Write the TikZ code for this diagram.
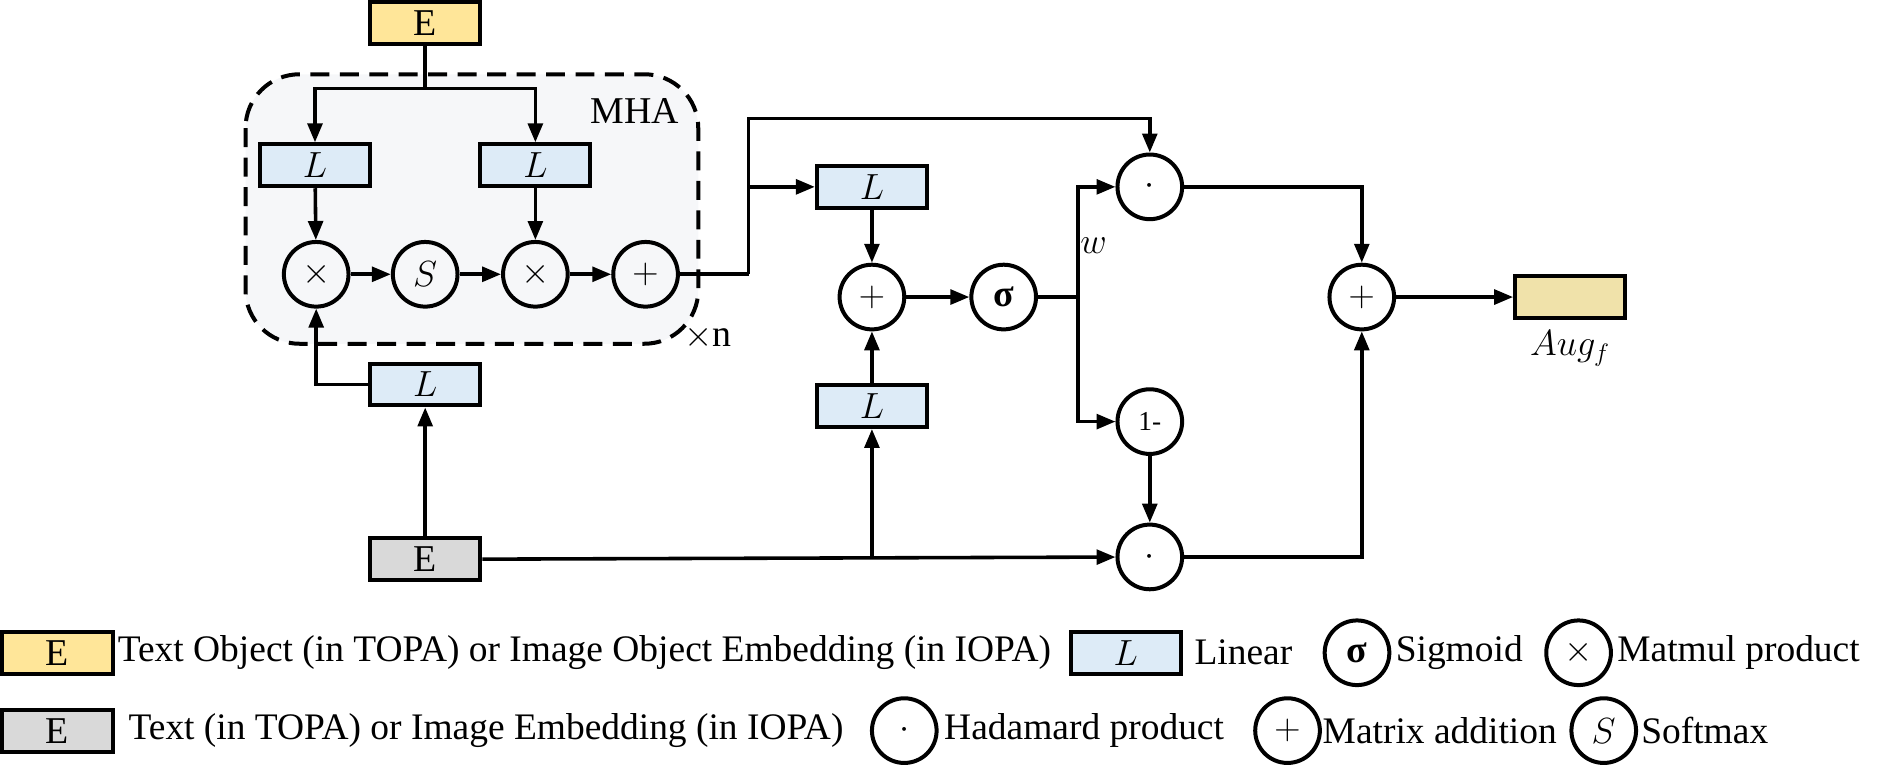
\documentclass[tikz,border=0pt]{standalone}
\usepackage{amsmath}
\usepackage{fontspec}
\setmainfont{Liberation Serif}
\usetikzlibrary{arrows.meta}
\definecolor{embyellow}{RGB}{255,230,153}
\definecolor{embgray}{RGB}{217,217,217}
\definecolor{linblue}{RGB}{221,235,247}
\definecolor{mhabg}{RGB}{246,247,249}
\definecolor{augfill}{RGB}{240,226,170}
\tikzset{
  box/.style={draw, line width=1.9pt, minimum width=1.84cm, minimum height=0.7cm, inner sep=0pt, font=\fontsize{18}{21}\selectfont},
  opnode/.style={draw, circle, line width=1.9pt, minimum size=1.08cm, inner sep=0pt, font=\fontsize{18}{21}\selectfont},
  conn/.style={line width=1.7pt},
  arr/.style={conn, -{Triangle[length=9pt,width=7pt]}},
  legtext/.style={anchor=west, font=\fontsize{17.8}{21}\selectfont, inner sep=0pt}
}
\begin{document}
\begin{tikzpicture}[x=0.02cm, y=-0.02cm]
    \useasboundingbox (0,0) rectangle (1568,640);
    % MHA block
    \draw [dashed, line width=1.9pt, dash pattern=on 9pt off 5pt, fill=mhabg, rounded corners=0.9cm] (205,62) rectangle (583,287);
    \node (mha) at (530,93) {\fontsize{18}{21}\selectfont MHA};
    \node (rep) at (591,282) {\fontsize{18}{21}\selectfont $\times$n};
    % nodes
    \node [box, fill=embyellow] (etop) at (355,19) {E};
    \node [box, fill=linblue] (lq) at (263,138) {$L$};
    \node [box, fill=linblue] (lk) at (447,138) {$L$};
    \node [opnode] (mul1) at (264,229) {$\times$};
    \node [opnode] (soft) at (355,229) {$S$};
    \node [opnode] (mul2) at (447,229) {$\times$};
    \node [opnode] (add1) at (539,229) {$+$};
    \node [box, fill=linblue] (lv) at (355,321) {$L$};
    \node [box, fill=embgray] (ebot) at (355,467) {E};
    \node [box, fill=linblue] (lg1) at (728,156) {$L$};
    \node [opnode] (add2) at (728,248) {$+$};
    \node [box, fill=linblue] (lg2) at (728,339) {$L$};
    \node [opnode] (sig) at (838,248) {\textbf{σ}};
    \node [opnode] (had1) at (960,156) {$\cdot$};
    \node [opnode] (inv) at (960,352) {\fontsize{13}{15}\selectfont 1-};
    \node [opnode] (had2) at (960,465) {$\cdot$};
    \node [opnode] (add3) at (1137,248) {$+$};
    \node [box, fill=augfill] (aug) at (1311,248) {};
    \node (augl) at (1311,291) {\fontsize{18}{21}\selectfont $Aug_f$};
    \node (wl) at (913,205) {\fontsize{18}{21}\selectfont $w$};
    % coordinates
    \coordinate (split) at (355,74);
    \coordinate (gate) at (900,248);
    \coordinate (res) at (625,229);
    \coordinate (tap) at (728,465);
    % connectors
    \draw [conn] (etop) -- (split);
    \draw [arr] (split) -| (lq);
    \draw [arr] (split) -| (lk);
    \draw [arr] (lq) -- (mul1);
    \draw [arr] (lk) -- (mul2);
    \draw [arr] (mul1) -- (soft);
    \draw [arr] (soft) -- (mul2);
    \draw [arr] (mul2) -- (add1);
    \draw [arr] (lv.west) -| (mul1.south);
    \draw [arr] (ebot) -- (lv);
    \draw [conn] (add1) -- (res);
    \draw [arr] (res) |- (lg1);
    \draw [arr] (res) |- (960,99) -- (had1);
    \draw [arr] (lg1) -- (add2);
    \draw [arr] (lg2) -- (add2);
    \draw [arr] (add2) -- (sig);
    \draw [conn] (sig) -- (gate);
    \draw [arr] (gate) |- (had1);
    \draw [arr] (gate) |- (inv);
    \draw [arr] (inv) -- (had2);
    \draw [arr] (ebot) -- (had2);
    \draw [arr] (tap) -- (lg2);
    \draw [arr] (had1) -| (add3);
    \draw [arr] (had2) -| (add3);
    \draw [arr] (add3) -- (aug);
    % legend
    \node [box, fill=embyellow] (k1) at (48,545) {E};
    \node [legtext] (t1) at (98,545) {Text Object (in TOPA) or Image Object Embedding (in IOPA)};
    \node [box, fill=linblue] (k2) at (940,545) {$L$};
    \node [legtext] (t2) at (997,545) {Linear};
    \node [opnode] (k3) at (1133,545) {\textbf{σ}};
    \node [legtext] (t3) at (1165,545) {Sigmoid};
    \node [opnode] (k4) at (1318,545) {$\times$};
    \node [legtext] (t4) at (1350,545) {Matmul product};
    \node [box, fill=embgray] (k5) at (48,610) {E};
    \node [legtext] (t5) at (107,610) {Text (in TOPA) or Image Embedding (in IOPA)};
    \node [opnode] (k6) at (755,610) {$\cdot$};
    \node [legtext] (t6) at (788,610) {Hadamard product};
    \node [opnode] (k7) at (1075,610) {$+$};
    \node [legtext] (t7) at (1104,610) {Matrix addition};
    \node [opnode] (k8) at (1339,610) {$S$};
    \node [legtext] (t8) at (1370,610) {Softmax};
\end{tikzpicture}
\end{document}
